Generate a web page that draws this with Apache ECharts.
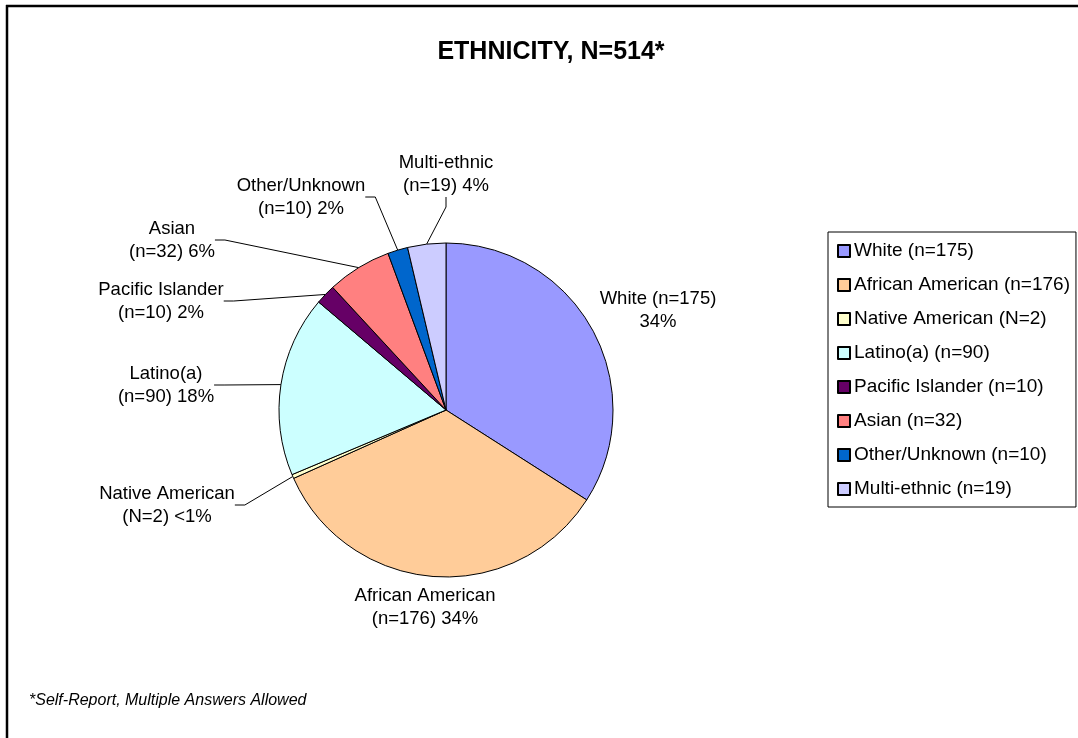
<!DOCTYPE html>
<html>
<head>
<meta charset="utf-8">
<script src="https://cdn.jsdelivr.net/npm/echarts@6/dist/echarts.min.js"></script>
<style>
html,body{margin:0;padding:0;background:#fff;}
#chart{width:1078px;height:738px;}
</style>
</head>
<body>
<div id="chart"></div>
<script>
// ---- data ----
const categories = ['White (n=175)', 'African American (n=176)', 'Native American (N=2)', 'Latino(a) (n=90)', 'Pacific Islander (n=10)', 'Asian (n=32)', 'Other/Unknown (n=10)', 'Multi-ethnic (n=19)'];
const counts = [175, 176, 2, 90, 10, 32, 10, 19];
const labelLine1 = ['White (n=175)', 'African American', 'Native American', 'Latino(a)', 'Pacific Islander', 'Asian', 'Other/Unknown', 'Multi-ethnic'];
const labelLine2 = ['34%', '(n=176) 34%', '(N=2) <1%', '(n=90) 18%', '(n=10) 2%', '(n=32) 6%', '(n=10) 2%', '(n=19) 4%'];
const titleText = 'ETHNICITY, N=514*';
const footnoteText = '*Self-Report, Multiple Answers Allowed';

// ---- styling ----
const colors = ['#9999FF', '#FFCC99', '#FFFFCC', '#CCFFFF', '#660066', '#FF8080', '#0066CC', '#CCCCFF'];
const labelPos = [[658, 310], [425, 607], [167, 505], [166, 385], [161, 301], [172, 240], [301, 197], [446, 174]];
const showLine = [false, false, true, true, true, true, true, true];
const FONT = 'Arial, "Liberation Sans", sans-serif';

const chart = echarts.init(document.getElementById('chart'), null, {renderer: 'canvas'});

const seriesData = categories.map((name, i) => ({
  name: name,
  value: counts[i],
  itemStyle: {color: colors[i]},
  labelLine: {show: showLine[i]}
}));

chart.setOption({
  backgroundColor: '#ffffff',
  animation: false,
  title: [
    {
      text: titleText,
      left: 546, top: 35, textAlign: 'center',
      textStyle: {fontFamily: FONT, fontSize: 25, fontWeight: 'bold', color: '#000'}
    },
    {
      text: footnoteText,
      left: 24, top: 688,
      textStyle: {fontFamily: FONT, fontSize: 16, fontStyle: 'italic', fontWeight: 'normal', color: '#000'}
    }
  ],
  legend: {
    orient: 'vertical',
    left: 828, top: 232,
    padding: [9, 6, 8, 9],
    borderColor: '#000', borderWidth: 1,
    itemWidth: 12, itemHeight: 12, itemGap: 14,
    icon: 'rect',
    data: categories,
    textStyle: {fontFamily: FONT, fontSize: 19, lineHeight: 20, color: '#000', padding: [0, 0, 0, -1]}
  },
  graphic: [
    {type: 'line', shape: {x1: 6, y1: 6, x2: 1078, y2: 6}, style: {stroke: '#000', lineWidth: 2.5}, silent: true},
    {type: 'line', shape: {x1: 7, y1: 5, x2: 7, y2: 738}, style: {stroke: '#000', lineWidth: 2.5}, silent: true}
  ],
  series: [{
    type: 'pie',
    center: [446, 410],
    radius: 167,
    startAngle: 90,
    clockwise: true,
    data: seriesData,
    itemStyle: {borderColor: '#000', borderWidth: 1},
    emphasis: {disabled: true},
    label: {
      show: true,
      position: 'outside',
      fontFamily: FONT, fontSize: 18.5, lineHeight: 23, color: '#000',
      align: 'center',
      formatter: p => labelLine1[p.dataIndex] + '\n' + labelLine2[p.dataIndex]
    },
    labelLine: {show: true, length: 10, length2: 10, lineStyle: {color: '#000', width: 1}},
    labelLayout: p => ({
      x: labelPos[p.dataIndex][0],
      y: labelPos[p.dataIndex][1],
      align: 'center',
      verticalAlign: 'middle'
    })
  }]
});
</script>
</body>
</html>
